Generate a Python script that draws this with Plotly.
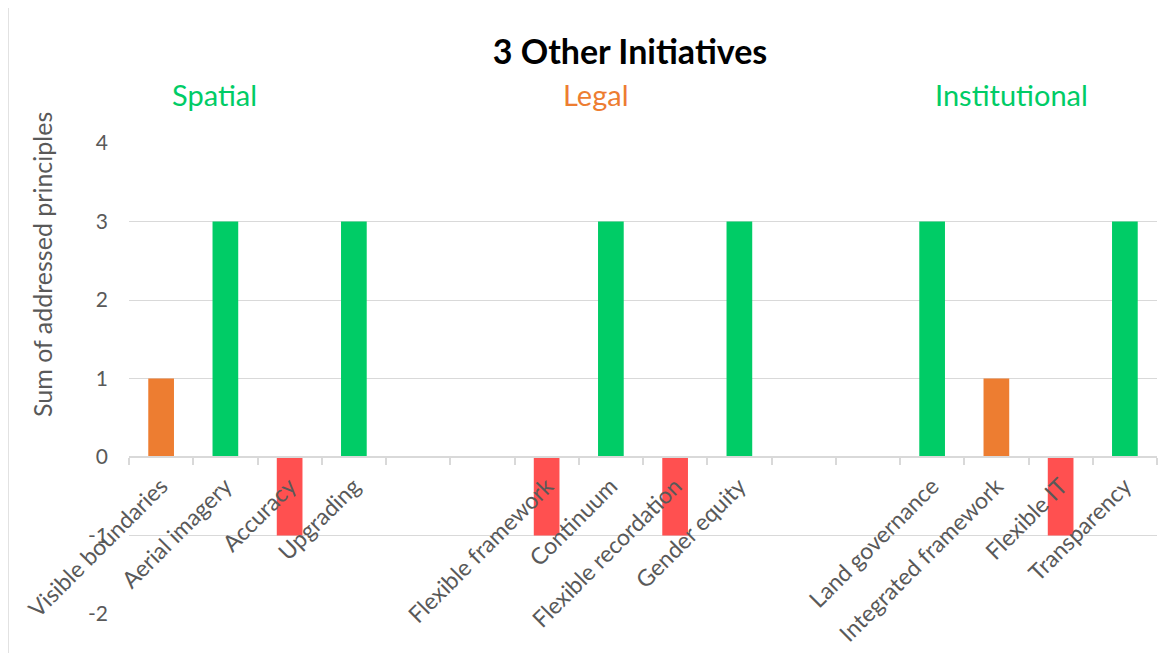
import plotly.graph_objects as go

# ---- data ----
categories = ["Visible boundaries", "Aerial imagery", "Accuracy", "Upgrading", " ", "  ",
              "Flexible framework", "Continuum", "Flexible recordation", "Gender equity", "   ", "    ",
              "Land governance", "Integrated framework", "Flexible IT", "Transparency"]
values = [1, 3, -1, 3, None, None,
          -1, 3, -1, 3, None, None,
          3, 1, -1, 3]
groups = ["Spatial", "Legal", "Institutional"]
group_colors = ["#00CC66", "#ED7D31", "#00CC66"]
title_text = "3 Other Initiatives"
y_title = "Sum of addressed principles"
y_ticks = [-2, -1, 0, 1, 2, 3, 4]
y_tick_text = ["-2", "-1", "0", "1", "2", "3", "4"]

value_color = {3: "#00CC66", 1: "#ED7D31", -1: "#FF5050"}
bar_colors = [value_color.get(v, "rgba(0,0,0,0)") for v in values]

# page is offset by the default 8px body margin
O = 8
PAGE_W, PAGE_H = 1169, 653
W, H = PAGE_W - O, PAGE_H - O
L, R, T, B = 121, 12, 135, 39
PW, PH = W - L - R, H - T - B

def px_x(px):  # page pixel -> paper x
    return (px - O - L) / PW

def px_y(py):  # page pixel -> paper y
    return (H - B - (py - O)) / PH

FONT = "Lato"
GRID = "#D9D9D9"

fig = go.Figure()
fig.add_trace(go.Bar(x=categories, y=values, marker=dict(color=bar_colors, line=dict(width=0)),
                     width=0.4, hoverinfo="x+y"))

ymin, ymax = -2, 4
fig.update_layout(
    width=W, height=H,
    margin=dict(l=L, r=R, t=T, b=B, autoexpand=False),
    paper_bgcolor="white", plot_bgcolor="white",
    showlegend=False,
    title=dict(text="<b>" + title_text + "</b>", x=(630 - O) / W, y=1 - (52 - O) / H,
               xanchor="center", yanchor="middle",
               font=dict(family=FONT, size=34, color="black")),
    xaxis=dict(type="category", categoryorder="array", categoryarray=categories,
               range=[-0.5, len(categories) - 0.5],
               anchor="free", position=(0 - ymin) / (ymax - ymin),
               showline=True, linecolor=GRID, linewidth=1.5,
               ticks="outside", tickson="boundaries", ticklen=7, tickcolor=GRID, tickwidth=1.5,
               tickangle=-45, showgrid=False, ticklabelstandoff=6,
               tickfont=dict(family=FONT, size=23, color="#595959")),
    yaxis=dict(range=[ymin, ymax], tickvals=y_ticks, ticktext=y_tick_text,
               showgrid=True, gridcolor=GRID, gridwidth=1.3,
               zeroline=False, showline=False, ticks="", ticklabelstandoff=20,
               tickfont=dict(family=FONT, size=21, color="#595959")),
    shapes=[dict(type="rect", xref="paper", yref="paper",
                 x0=px_x(8), x1=px_x(PAGE_W + 20), y0=px_y(PAGE_H + 20), y1=px_y(5),
                 line=dict(color=GRID, width=1.5), fillcolor="rgba(0,0,0,0)", layer="below")],
)

annotations = [dict(text=y_title, xref="paper", yref="paper", x=px_x(42), y=px_y(265),
                    textangle=-90, showarrow=False, xanchor="center", yanchor="middle",
                    font=dict(family=FONT, size=25, color="#595959"))]
group_px = [214, 595, 1011]
for g, c, gx in zip(groups, group_colors, group_px):
    annotations.append(dict(text=g, xref="paper", yref="paper", x=px_x(gx), y=px_y(94),
                            showarrow=False, xanchor="center", yanchor="middle",
                            font=dict(family=FONT, size=29, color=c)))
fig.update_layout(annotations=annotations)

fig.write_html("out.html")
